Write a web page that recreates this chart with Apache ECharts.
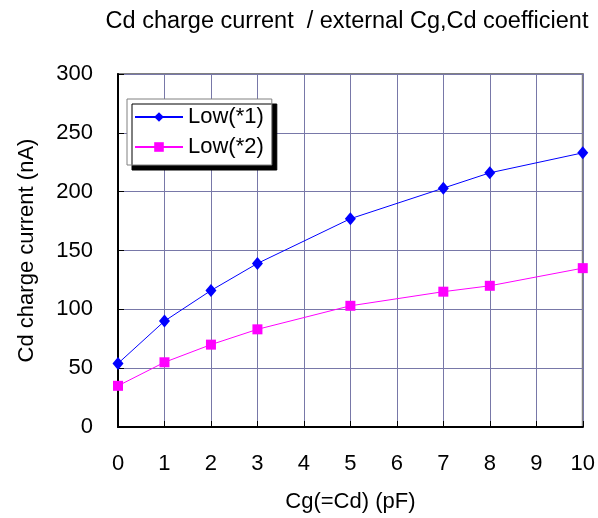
<!DOCTYPE html>
<html lang="en">
<head>
    <meta charset="UTF-8">
    <title>Cd charge current</title>
    <script src="https://cdn.jsdelivr.net/npm/echarts@6/dist/echarts.min.js"></script>
    <style>
        body { margin: 0; background: #fff; }
    </style>
</head>
<body>
    <div id="main" style="width: 598px;height:518px;"></div>
    <script>
        let seriesNames = ['Low(*1)', 'Low(*2)']
        let cgValues = [0, 1, 2, 3, 5, 7, 8, 10]
        let low1 = [54, 90, 116, 139, 177, 203, 216, 233]
        let low2 = [35, 55, 70, 83, 103, 115, 120, 135]
        let xTicks = [0, 1, 2, 3, 4, 5, 6, 7, 8, 9, 10]
        let yTicks = [0, 50, 100, 150, 200, 250, 300]
    </script>
    <script>
        var chartDom = document.getElementById('main');
        var myChart = echarts.init(chartDom);
        var option;
        var font = 'Arial, "Liberation Sans", sans-serif';

        option = {
            animation: false,
            textStyle: { fontFamily: font },
            title: {
                text: 'Cd charge current  / external Cg,Cd coefficient',
                left: 342,
                textAlign: 'center',
                top: 5,
                textStyle: { fontSize: 23.5, fontWeight: 'normal', color: '#000', fontFamily: font }
            },
            legend: {
                orient: 'vertical',
                left: 127,
                top: 99,
                padding: [7, 8, 7, 7],
                itemGap: 8,
                itemWidth: 48,
                itemHeight: 12,
                backgroundColor: '#fff',
                borderColor: '#808080',
                borderWidth: 1,
                borderRadius: 0,
                shadowColor: '#000',
                shadowBlur: 0,
                shadowOffsetX: 5,
                shadowOffsetY: 5,
                textStyle: { fontSize: 22, lineHeight: 22, color: '#000', fontFamily: font },
                data: seriesNames
            },
            grid: {
                left: 118,
                right: 14,
                top: 74,
                bottom: 87,
                show: true,
                borderColor: '#808080',
                borderWidth: 2
            },
            xAxis: {
                type: 'value',
                min: xTicks[0],
                max: xTicks[xTicks.length - 1],
                interval: 1,
                name: 'Cg(=Cd) (pF)',
                nameLocation: 'middle',
                nameGap: 64,
                nameTextStyle: { fontSize: 22, color: '#000' },
                axisLine: { show: true, lineStyle: { color: '#000', width: 2 } },
                axisTick: { show: true, inside: true, length: 6, lineStyle: { color: '#000' } },
                axisLabel: { fontSize: 22, color: '#000', margin: 26 },
                splitLine: { show: true, lineStyle: { color: '#7878a8', width: 1 } }
            },
            yAxis: {
                type: 'value',
                min: yTicks[0],
                max: yTicks[yTicks.length - 1],
                interval: 50,
                name: 'Cd charge current (nA)',
                nameLocation: 'middle',
                nameGap: 80,
                nameTextStyle: { fontSize: 22, color: '#000' },
                axisLine: { show: true, lineStyle: { color: '#000', width: 2 } },
                axisTick: { show: true, inside: true, length: 6, lineStyle: { color: '#000' } },
                axisLabel: { fontSize: 22, color: '#000', margin: 25 },
                splitLine: { show: true, lineStyle: { color: '#7878a8', width: 1 } }
            },
            series: [
                {
                    name: seriesNames[0],
                    type: 'line',
                    symbol: 'diamond',
                    symbolSize: [11, 13],
                    itemStyle: { color: '#0000ff' },
                    lineStyle: { color: '#0000ff', width: 1 },
                    data: cgValues.map((x, i) => [x, low1[i]])
                },
                {
                    name: seriesNames[1],
                    type: 'line',
                    symbol: 'rect',
                    symbolSize: 10,
                    itemStyle: { color: '#ff00ff' },
                    lineStyle: { color: '#ff00ff', width: 1 },
                    data: cgValues.map((x, i) => [x, low2[i]])
                }
            ]
        };

        option && myChart.setOption(option);
    </script>
</body>
</html>
